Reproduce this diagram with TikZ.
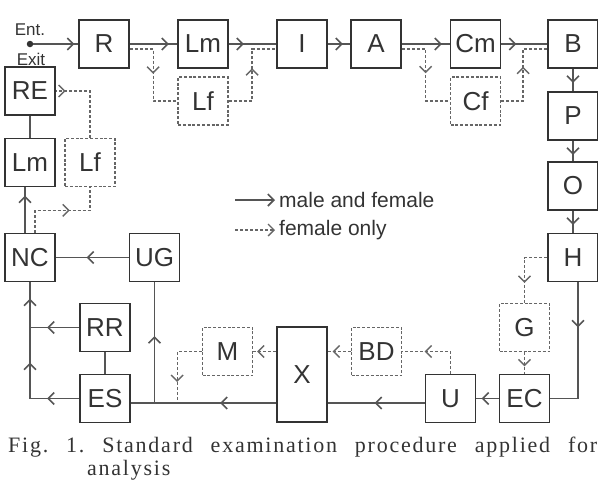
\documentclass[tikz,border=0pt]{standalone}
\usepackage{fontspec}
\setmainfont{Liberation Sans}
\newfontfamily\capfont[LetterSpace=8]{Liberation Serif}
\usetikzlibrary{arrows.meta,decorations.markings,calc}
\definecolor{boxc}{HTML}{333333}
\definecolor{linec}{HTML}{555555}
\definecolor{fc}{HTML}{666666}
\tikzset{
  bx/.style={draw=boxc, line width=1.8pt, minimum width=50pt, minimum height=48pt, inner sep=0pt,
    text=boxc, font=\fontsize{26}{26}\selectfont},
  fbx/.style={bx, draw=fc, line width=1.6pt, dash pattern=on 3pt off 1.8pt},
  ml/.style={draw=linec, line width=1.6pt},
  fl/.style={draw=fc, line width=1.4pt, dash pattern=on 3pt off 2pt},
  am/.style={postaction={decorate, decoration={markings,
    mark=at position #1 with {\arrow{Straight Barb[length=6pt,width=12pt]}}}}},
  amr/.style={postaction={decorate, decoration={markings,
    mark=at position #1 with {\arrowreversed{Straight Barb[length=6pt,width=12pt]}}}}},
  lt/.style={inner sep=0pt, text=boxc, font=\fontsize{21}{21}\selectfont},
}
\begin{document}
\begin{tikzpicture}[x=1pt, y=-1pt]
\useasboundingbox (0,0) rectangle (598,480);
% top row
\node[bx] (R) at (104,44) {R};
\node[bx] (Lm1) at (203,44) {Lm};
\node[bx] (I) at (302,44) {I};
\node[bx] (A) at (376,44) {A};
\node[bx] (Cm) at (475.5,44) {Cm};
\node[bx] (B) at (573,44) {B};
\node[fbx] (Lf1) at (203,101) {Lf};
\node[fbx] (Cf) at (475.5,101) {Cf};
% right column
\node[bx] (P) at (573,116) {P};
\node[bx] (O) at (573,186) {O};
\node[bx] (H) at (573,257.5) {H};
\node[fbx] (G) at (524.5,327.5) {G};
\node[bx] (EC) at (524.5,398.5) {EC};
\node[bx] (U) at (450.5,398.5) {U};
\node[fbx] (BD) at (376.5,351.5) {BD};
\node[bx, minimum height=95pt] (X) at (302,374.5) {X};
\node[fbx] (M) at (227.5,351.5) {M};
\node[bx] (ES) at (105,398.5) {ES};
\node[bx] (RR) at (105,327.5) {RR};
% left column
\node[bx] (NC) at (30,257.5) {NC};
\node[bx] (UG) at (154.5,257.5) {UG};
\node[bx] (Lm2) at (30,162.5) {Lm};
\node[fbx] (Lf2) at (90,162.5) {Lf};
\node[bx] (RE) at (30,91) {RE};
% entry
\node[circle, fill=boxc, inner sep=0pt, minimum size=6.5pt] (ent) at (30,44) {};
\node[inner sep=0pt, text=boxc, font=\fontsize{17}{17}\selectfont] (entl) at (30,30) {Ent.};
\node[inner sep=0pt, text=boxc, font=\fontsize{17}{17}\selectfont] (exitl) at (31,59) {Exit};

% connectors top row
\draw[ml, am=41pt] (ent) -- (R);
\draw[ml, am=39pt] (R) -- (Lm1);
\draw[fl, am=48pt] ($(R.east)+(0,5)$) -| ($(Lf1.west)+(-24,0)$) -- (Lf1.west);
\draw[fl, am=56pt] (Lf1.east) -| ($(I.west)+(-24,5)$) -- ($(I.west)+(0,5)$);
\draw[ml, am=15pt] (Lm1) -- (I);
\draw[ml, am=15pt] (I) -- (A);
\draw[ml, am=40pt] (A) -- (Cm);
\draw[fl, am=48pt] ($(A.east)+(0,5)$) -| ($(Cf.west)+(-24,0)$) -- (Cf.west);
\draw[fl, am=56pt] (Cf.east) -| ($(B.west)+(-24,5)$) -- ($(B.west)+(0,5)$);
\draw[ml, am=15pt] (Cm) -- (B);
% right column
\draw[ml, am=14pt] (B) -- (P);
\draw[ml, am=14pt] (P) -- (O);
\draw[ml, am=14pt] (O) -- (H);
\draw[fl, am=48pt] (H.west) -| (G.north);
\draw[fl, am=14pt] (G) -- (EC);
\draw[ml, am=45pt] ($(H.south)+(5,0)$) |- (EC.east);
\draw[ml, am=17pt] (EC) -- (U);
% bottom row
\coordinate (uw) at ($(U.west)+(0,4.5)$);
\coordinate (xe) at (X.east |- uw);
\coordinate (xw) at (X.west |- uw);
\draw[ml, am=50pt] (uw) -- (xe);
\draw[fl, am=48pt] (U.north) |- (BD.east);
\draw[fl, am=18pt] (BD.west) -- (X.east |- BD.west);
\draw[fl, am=19pt] (X.west |- M.east) -- (M.east);
\path (M.west) ++(-24.5,0) coordinate (mk);
\coordinate (mj) at (mk |- xw);
\draw[fl, am=55pt] (M.west) -| (mj);
\coordinate (esj) at (ES.east |- xw);
\draw[ml, am=56pt] (xw) -- (esj);
\coordinate (ugj) at (UG.south |- xw);
\draw[ml, am=67pt] (ugj) -- (UG.south);
\draw[ml, am=42pt] (UG) -- (NC);
\draw[ml, am=32pt, am=85pt, am=149pt] (ES.west) -| (NC.south);
\coordinate (rrj) at (RR.west -| NC.south);
\draw[ml, am=32pt] (RR.west) -- (rrj);
\draw[ml] (RR) -- (ES);
% left column
\draw[ml, am=37pt] ($(NC.north)+(-5,0)$) -- ($(Lm2.south)+(-5,0)$);
\draw[fl, am=57pt] ($(NC.north)+(5,0)$) |- ($(Lf2.south)+(0,23)$) -- (Lf2.south);
\draw[fl, amr=71pt] (Lf2.north) |- (RE.east);
\draw[ml] (RE) -- (Lm2);

% legend
\coordinate (la1) at (235,200);
\coordinate (la2) at (275,200);
\coordinate (lb1) at (235,230);
\coordinate (lb2) at (275,230);
\draw[ml, -{Straight Barb[length=6pt,width=12pt]}] (la1) -- (la2);
\draw[fl, -{Straight Barb[length=6pt,width=12pt]}] (lb1) -- (lb2);
\node[lt, anchor=west] (lt1) at (279,200) {male and female};
\node[lt, anchor=west] (lt2) at (279,230) {female only};

% caption
\node[anchor=base west, inner sep=0pt, text=boxc, font=\capfont\fontsize{22}{22}\selectfont] (cap1) at (8,452)
  {\makebox[589pt][s]{Fig.\ 1.\ Standard examination procedure applied for}};
\node[anchor=base west, inner sep=0pt, text=boxc, font=\capfont\fontsize{22}{22}\selectfont] (cap2) at (87,475) {analysis};
\end{tikzpicture}
\end{document}
